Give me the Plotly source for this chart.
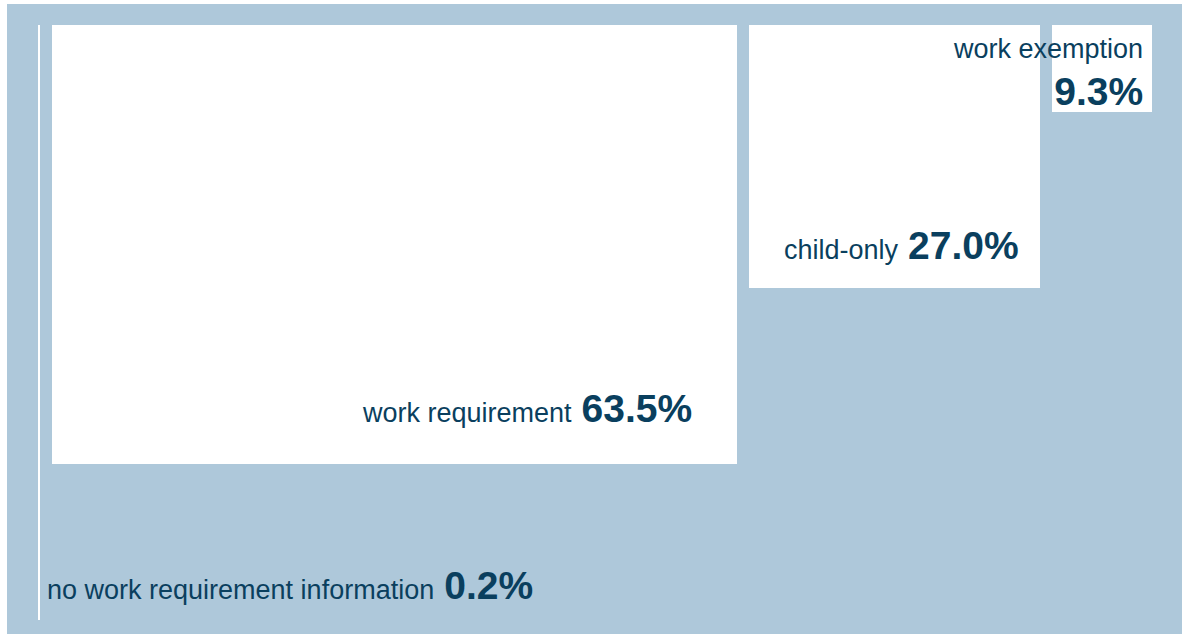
import plotly.graph_objects as go

# ---- data ----
categories = ["no work requirement information", "work requirement", "child-only", "work exemption"]
shares = [0.2, 63.5, 27.0, 9.3]          # percent of cases (bar width)
depth = [94.4, 69.7, 41.7, 13.8]         # box depth (percent of panel height)

# ---- styles / layout constants ----
W, H = 1182, 634
ML, MT = 7, 4
PX_PER_UNIT = 10.78
LEFT_PAD = 31 / PX_PER_UNIT
GAP = 12 / PX_PER_UNIT
TOP_OFFSET = 21 / (H - MT) * 100
BG = "#aec8da"
TXT = "#0a3f5e"
NAME_FONT = "Liberation Sans Narrow, Arial Narrow, Liberation Sans, Arial, sans-serif"
PCT_FONT = "Liberation Sans, Arial, sans-serif"

# label placement per category: (xanchor, xshift, yshift, two_line)
label_style = [
    ("left", 5, 11, False),
    ("right", -43, 32, False),
    ("right", -19, 19, False),
    ("right", -7, -3, True),
]

# positions computed from the shares
centers = []
pos = LEFT_PAD
for s in shares:
    centers.append(pos + s / 2)
    pos += s + GAP

x_range = [0, (W - ML) / PX_PER_UNIT]

fig = go.Figure()
fig.add_trace(go.Bar(
    x=centers,
    y=depth,
    base=[TOP_OFFSET] * len(depth),
    width=shares,
    marker=dict(color="white", line=dict(width=0)),
    hoverinfo="skip",
    showlegend=False,
))

for i, (cat, s, d) in enumerate(zip(categories, shares, depth)):
    xanchor, xs, ys, two = label_style[i]
    name = f"<span style='font-size:27px'>{cat}</span>"
    pct = f"<span style='font-family:{PCT_FONT};font-weight:bold;font-size:39px'>{s:.1f}%</span>"
    sep = "<br>" if two else " "
    text = f"{name}{sep}{pct}"
    fig.add_annotation(
        x=centers[i] + s / 2,
        y=TOP_OFFSET + d,
        xref="x", yref="y",
        text=text,
        showarrow=False,
        xanchor=xanchor,
        yanchor="bottom",
        align="right" if xanchor == "right" else "left",
        xshift=xs,
        yshift=ys,
        font=dict(family=NAME_FONT, size=36, color=TXT),
    )

fig.update_layout(
    width=W, height=H,
    margin=dict(l=ML, r=0, t=MT, b=0, pad=0),
    paper_bgcolor="white",
    plot_bgcolor=BG,
    bargap=0,
    xaxis=dict(range=x_range, visible=False, fixedrange=True),
    yaxis=dict(range=[100, 0], visible=False, fixedrange=True),
    showlegend=False,
)

fig.write_html(
    "out.html",
    config={"displayModeBar": False},
    post_script="document.body.style.margin='0px';document.body.style.overflow='hidden';",
)
